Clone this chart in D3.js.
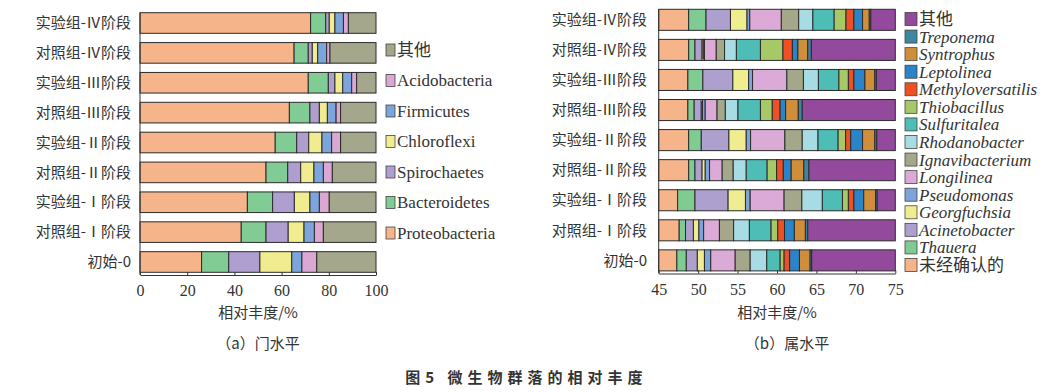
<!DOCTYPE html>
<html>
<head>
<meta charset="utf-8">
<script src="https://cdn.jsdelivr.net/npm/d3@7"></script>
<style>
  body { margin: 0; background: #fff; }
  svg text { fill: #333; }
  .cat { font-family: "Noto Sans CJK SC", sans-serif; font-size: 15px; }
  .cap { font-family: "Noto Sans CJK SC", sans-serif; font-size: 15px; }
  .title { font-family: "Noto Sans CJK SC", sans-serif; font-size: 15px; font-weight: 600; letter-spacing: 5px; }
</style>
</head>
<body>
<svg id="chart" width="1053" height="392"></svg>
<script>
const width = 1053, height = 392
const serif = "'Liberation Serif', 'DejaVu Serif', 'Noto Sans CJK SC'"

// samples, top to bottom
const samples = ["实验组-Ⅳ阶段", "对照组-Ⅳ阶段", "实验组-Ⅲ阶段", "对照组-Ⅲ阶段",
  "实验组-Ⅱ阶段", "对照组-Ⅱ阶段", "实验组-Ⅰ阶段", "对照组-Ⅰ阶段", "初始-0"]

// (a) phylum level, % per sample
const phyla = ["Proteobacteria", "Bacteroidetes", "Spirochaetes", "Chloroflexi", "Firmicutes", "Acidobacteria", "其他"]
const proteobacteria = [72.3, 65.3, 71.3, 63.3, 57.3, 53.4, 45.5, 42.9, 26.1]
const bacteroidetes  = [6.4, 6.0, 8.5, 8.7, 9.1, 9.2, 10.7, 10.5, 11.5]
const spirochaetes   = [1.5, 1.7, 2.8, 4.0, 5.1, 5.5, 9.2, 9.4, 13.2]
const chloroflexi    = [2.4, 2.3, 3.3, 3.4, 5.6, 5.6, 6.6, 6.7, 13.5]
const firmicutes     = [3.6, 3.8, 3.8, 3.7, 4.1, 4.0, 4.0, 4.4, 4.3]
const acidobacteria  = [2.1, 1.4, 2.1, 1.9, 3.8, 3.8, 4.2, 3.8, 6.3]
const phylaColors = ["#f6b48b", "#80cc94", "#ae9fd0", "#f1ec8f", "#7ca6db", "#dba7d3", "#a4a78b"]
const ticksA = [0, 20, 40, 60, 80, 100]

// (b) genus level, % per sample
const genera = ["未经确认的", "Thauera", "Acinetobacter", "Georgfuchsia", "Pseudomonas", "Longilinea",
  "Ignavibacterium", "Rhodanobacter", "Sulfuritalea", "Thiobacillus", "Methyloversatilis",
  "Leptolinea", "Syntrophus", "Treponema", "其他"]
const unidentified    = [48.8, 48.8, 48.7, 48.7, 48.8, 48.8, 47.4, 47.6, 47.3]
const thauera         = [2.2, 0.8, 1.9, 0.8, 1.6, 0.8, 2.2, 0.8, 1.2]
const acinetobacter   = [3.1, 0.9, 3.8, 0.9, 3.5, 0.9, 4.2, 1.0, 1.4]
const georgfuchsia    = [2.1, 0.15, 2.0, 0.15, 2.2, 0.4, 2.2, 0.7, 0.9]
const pseudomonas     = [0.35, 0.15, 0.5, 0.35, 0.55, 0.55, 0.6, 0.6, 0.8]
const longilinea      = [4.0, 1.5, 4.35, 1.5, 4.35, 1.6, 4.3, 2.0, 3.1]
const ignavibacterium = [2.2, 1.05, 2.1, 1.05, 2.2, 1.4, 2.25, 1.8, 1.9]
const rhodanobacter   = [1.8, 1.5, 1.9, 1.6, 2.0, 1.65, 2.6, 2.0, 2.1]
const sulfuritalea    = [2.7, 3.05, 2.6, 2.85, 2.55, 2.65, 2.55, 2.75, 1.7]
const thiobacillus    = [1.5, 2.85, 1.2, 1.5, 0.95, 1.2, 0.75, 0.85, 0.5]
const methyloversatilis = [1.0, 1.2, 0.7, 1.0, 0.65, 0.85, 0.7, 0.85, 0.7]
const leptolinea      = [1.1, 0.7, 1.4, 0.7, 1.5, 1.0, 1.25, 1.25, 1.25]
const syntrophus      = [0.85, 1.25, 1.25, 1.6, 1.55, 1.6, 1.5, 1.4, 1.35]
const treponema       = [0.2, 0.45, 0.2, 0.5, 0.25, 0.65, 0.2, 0.3, 0.2]
const generaColors = ["#f6b48b", "#80cb92", "#ada0cf", "#f0ec90", "#7fa4d9", "#dcaad6",
  "#a5a78a", "#a8dce4", "#4dbdb5", "#a6c867", "#ef4f24", "#2b84c7", "#d08e3b", "#3d86a0", "#944a9c"]
const ticksB = [45, 50, 55, 60, 65, 70, 75]

// build rows; "其他" is whatever is left up to 100
function build_rows(cols, names) {
  return samples.map((s, i) => {
    const row = { sample: s }
    let sum = 0
    cols.forEach((c, j) => { row[names[j]] = c[i]; sum += c[i] })
    row["其他"] = 100 - sum
    return row
  })
}
const rowsA = build_rows([proteobacteria, bacteroidetes, spirochaetes, chloroflexi, firmicutes, acidobacteria], phyla.slice(0, -1))
const rowsB = build_rows([unidentified, thauera, acinetobacter, georgfuchsia, pseudomonas, longilinea,
  ignavibacterium, rhodanobacter, sulfuritalea, thiobacillus, methyloversatilis, leptolinea,
  syntrophus, treponema], genera.slice(0, -1))

const svg = d3.select("#chart")

function draw_panel(cfg) {
  const x = d3.scaleLinear().domain(cfg.domain).range(cfg.xr)
  const y = d3.scaleBand().domain(samples).range(cfg.yr).paddingInner(cfg.pad).paddingOuter(0)
  const color = d3.scaleOrdinal().domain(cfg.keys).range(cfg.colors)
  const series = d3.stack().keys(cfg.keys)(cfg.rows)
  const [lo, hi] = cfg.domain

  const g = svg.append("g")
  g.selectAll("g.series")
    .data(series)
    .join("g").classed("series", true)
    .attr("fill", d => color(d.key))
    .selectAll("rect")
    .data(d => d.map(v => ({ x0: Math.max(lo, v[0]), x1: Math.min(hi, v[1]), s: v.data.sample })).filter(v => v.x1 > v.x0))
    .join("rect")
    .attr("x", d => x(d.x0))
    .attr("width", d => x(d.x1) - x(d.x0))
    .attr("y", d => y(d.s))
    .attr("height", y.bandwidth())
    .attr("stroke", "#2b2b2b")
    .attr("stroke-width", 1)

  // left line
  g.append("line")
    .attr("x1", x(lo)).attr("x2", x(lo))
    .attr("y1", cfg.yr[0]).attr("y2", cfg.axisY)
    .attr("stroke", "#333")

  // category labels
  g.selectAll("text.cat")
    .data(samples)
    .join("text").classed("cat", true)
    .attr("x", cfg.labelX)
    .attr("y", d => y(d) + y.bandwidth() / 2)
    .attr("dy", "0.35em")
    .attr("text-anchor", "end")
    .text(d => d)

  // x axis
  const ax = g.append("g")
    .attr("transform", `translate(0,${cfg.axisY})`)
    .call(d3.axisBottom(x).tickValues(cfg.ticks).tickSize(-3).tickPadding(10).tickSizeOuter(0))
  ax.select(".domain").attr("stroke", "#333")
  ax.selectAll(".tick line").attr("stroke", "#333")
  ax.selectAll(".tick text")
    .style("font-family", serif)
    .style("font-size", "16px")
    .style("fill", "#333")

  g.append("text").classed("cap", true)
    .attr("x", cfg.titleX).attr("y", 313).attr("dy", "0.35em")
    .attr("text-anchor", "middle")
    .text("相对丰度/%")
  g.append("text").classed("cap", true)
    .attr("x", cfg.capX).attr("y", 344).attr("dy", "0.35em")
    .attr("text-anchor", "middle")
    .text(cfg.caption)

  // legend, reversed
  const leg = g.selectAll("g.leg")
    .data(cfg.keys.slice().reverse())
    .join("g")
    .attr("transform", (d, i) => `translate(${cfg.legX},${cfg.legY + i * cfg.legStep})`)
  leg.append("rect")
    .attr("x", 0).attr("y", -cfg.box[1] / 2)
    .attr("width", cfg.box[0]).attr("height", cfg.box[1])
    .attr("fill", d => color(d))
    .attr("stroke", "#444").attr("stroke-width", 0.8)
  leg.append("text")
    .attr("x", cfg.box[0] + 2)
    .attr("dy", "0.35em")
    .style("font-family", serif)
    .style("font-size", "17px")
    .style("font-style", d => cfg.italic && d !== "其他" && d !== "未经确认的" ? "italic" : "normal")
    .text(d => d)
}

draw_panel({
  rows: rowsA, keys: phyla, colors: phylaColors, domain: [0, 100], ticks: ticksA,
  xr: [140, 376], yr: [12.7, 272.3], pad: 0.31, axisY: 275, labelX: 131,
  titleX: 258, capX: 258, caption: "（a）门水平",
  legX: 386, legY: 50, legStep: 30.5, box: [9, 12], italic: false
})

draw_panel({
  rows: rowsB, keys: genera, colors: generaColors, domain: [45, 75], ticks: ticksB,
  xr: [658.7, 895.3], yr: [9.3, 270.9], pad: 0.3, axisY: 273.5, labelX: 647,
  titleX: 777, capX: 787, caption: "（b）属水平",
  legX: 905, legY: 19, legStep: 17.57, box: [12, 13], italic: true
})

svg.append("text").classed("title", true)
  .attr("x", width / 2).attr("y", 378).attr("dy", "0.35em")
  .attr("text-anchor", "middle")
  .text("图5  微生物群落的相对丰度")
</script>
</body>
</html>
